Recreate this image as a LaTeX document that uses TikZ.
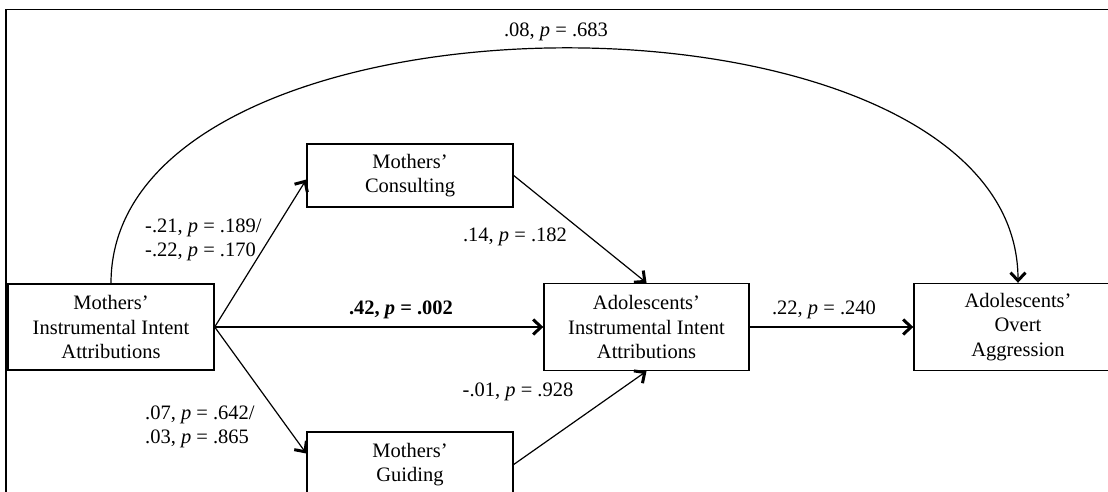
\documentclass[tikz,border=0pt]{standalone}
\usepackage{fontspec}
\setmainfont{Liberation Serif}
\usetikzlibrary{arrows.meta}

\begin{document}
\begin{tikzpicture}[x=1pt, y=1pt,
		box/.style={rectangle, draw=black, line width=1.4pt, fill=white, align=center, inner sep=0pt, font=\fontsize{20.5}{24.5}\selectfont},
		coef/.style={inner sep=0pt, align=left, font=\fontsize{20.5}{24.5}\selectfont},
		link/.style={line width=1.2pt, -{Straight Barb[length=8pt, width=15pt, line width=3pt]}}]
			\useasboundingbox (0,0) rectangle (1108,491);
			\clip (0,0) rectangle (1108,491);
			\draw[line width=1.8pt] (6,-10) -- (6,481.5) -- (1120,481.5);

			\node[box, minimum width=206pt, minimum height=86pt](motherIntent) at (111,164){Mothers’\\Instrumental Intent\\Attributions};
			\node[box, minimum width=206pt, minimum height=63pt](consulting) at (410,315.5){Mothers’\\Consulting};
			\node[box, minimum width=206pt, minimum height=65pt](guiding) at (410,26.5){Mothers’\\Guiding};
			\node[box, minimum width=205pt, minimum height=87pt](adolIntent) at (646.5,164){Adolescents’\\Instrumental Intent\\Attributions};
			\node[box, minimum width=208pt, minimum height=87pt](adolOvert) at (1018,164){Adolescents’\\Overt\\Aggression};

			\draw[link] (motherIntent.north) .. controls +(0,313) and +(0,313) .. (adolOvert.north);
			\draw[link] (motherIntent.east) -- ([yshift=-4pt]consulting.west);
			\draw[link] (motherIntent.east) -- ([yshift=11pt]guiding.west);
			\draw[link] (motherIntent.east) -- (adolIntent.west);
			\draw[link] (consulting.east) -- (adolIntent.north);
			\draw[link] (guiding.east) -- (adolIntent.south);
			\draw[link] (adolIntent.east) -- (adolOvert.west);

			\node[coef](direct) at (556,459){.08, \textit{p} = .683};
			\node[coef, anchor=west](toConsulting) at (145,251){-.21, \textit{p} = .189/\\-.22, \textit{p} = .170};
			\node[coef, anchor=west](toGuiding) at (145,64){.07, \textit{p} = .642/\\.03, \textit{p} = .865};
			\node[coef](intentPath) at (401,181){\textbf{.42, \textit{p} = .002}};
			\node[coef](fromConsulting) at (515,254){.14, \textit{p} = .182};
			\node[coef](fromGuiding) at (518,99){-.01, \textit{p} = .928};
			\node[coef](toOvert) at (824,181){.22, \textit{p} = .240};
		\end{tikzpicture}
\end{document}
